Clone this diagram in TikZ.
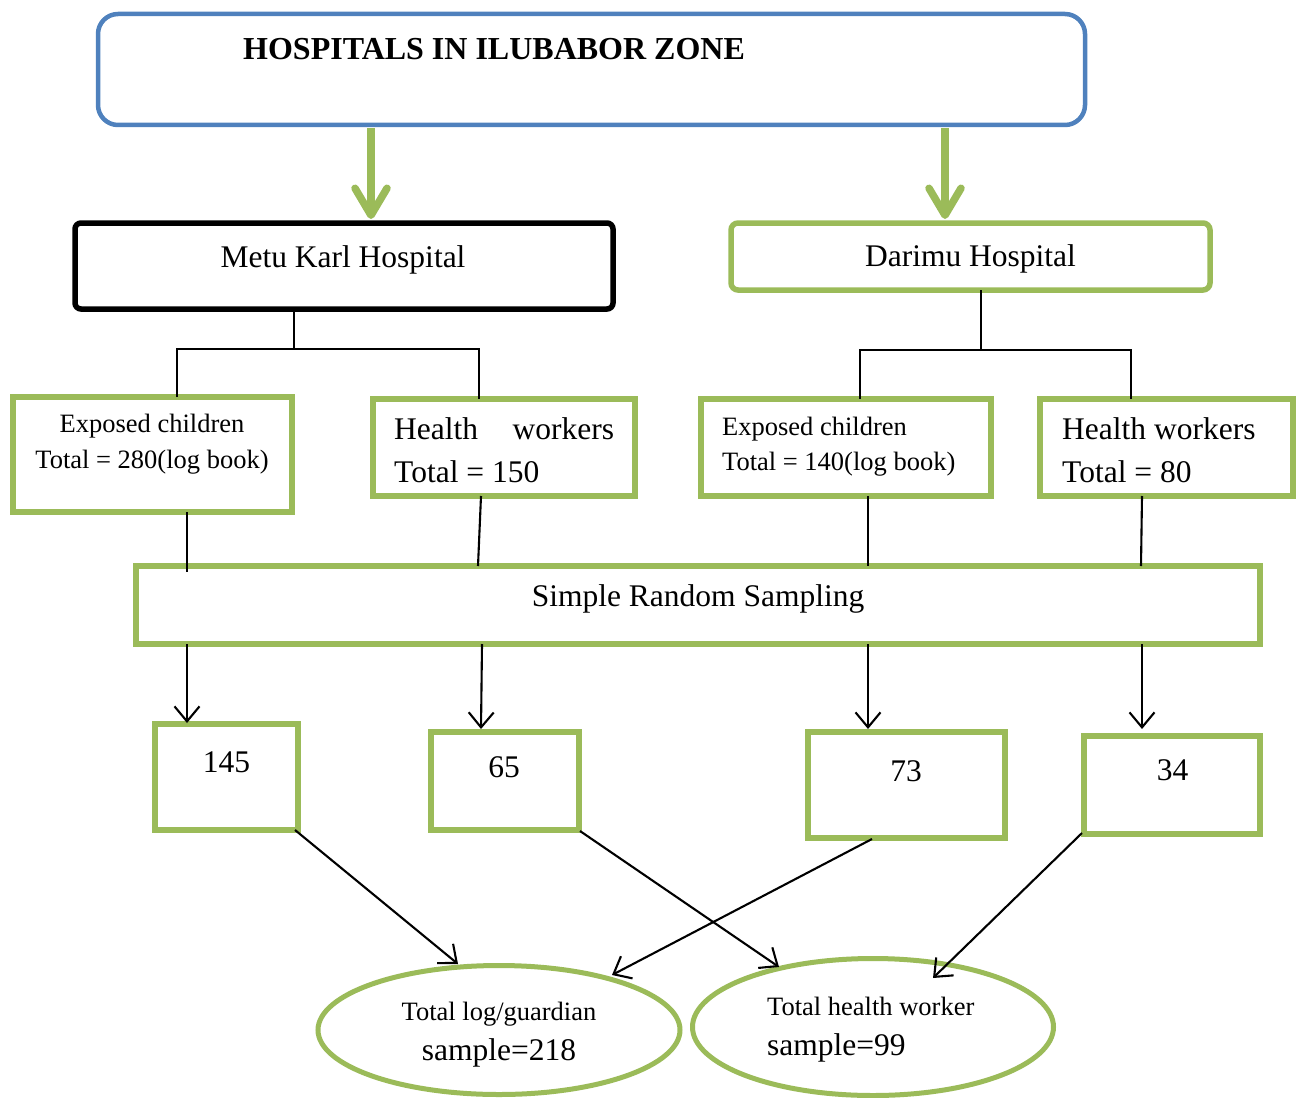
\documentclass[tikz,border=0pt]{standalone}
\usepackage{fontspec}
\setmainfont{Liberation Serif}
\usetikzlibrary{arrows.meta,calc,shapes.geometric}
\definecolor{grn}{HTML}{9BBB59}
\definecolor{blu}{HTML}{4F81BD}
\begin{document}
\begin{tikzpicture}[x=1pt,y=-1pt,
  gbox/.style={draw=grn, line width=5.5pt, rectangle, inner sep=0pt, outer sep=0pt},
  gell/.style={draw=grn, line width=5pt, ellipse, inner sep=0pt, outer sep=0pt},
  bigtxt/.style={font=\fontsize{31.5}{36}\selectfont, inner sep=0pt},
  smalltxt/.style={font=\fontsize{26.5}{30}\selectfont, inner sep=0pt},
  conn/.style={draw=black, line width=2.1pt},
  arr/.style={conn, -{Straight Barb[length=15pt,width=25pt]}},
  garr/.style={draw=grn, line width=7.5pt, -{Straight Barb[length=27pt,width=32pt,round]}},
]
\useasboundingbox (0,0) rectangle (1303,1097);

% top box
\node[draw=blu, line width=4.5pt, rounded corners=20pt, minimum width=987pt, minimum height=111pt, inner sep=0pt, outer sep=0pt] (top) at (591.5,69.5) {};
\node[font=\bfseries\fontsize{32}{36}\selectfont, inner sep=0pt, anchor=base west] (title) at (243,60) {HOSPITALS IN ILUBABOR ZONE};

% hospitals
\node[draw=black, line width=5.5pt, rounded corners=6pt, minimum width=538pt, minimum height=86pt, inner sep=0pt, outer sep=0pt] (metu) at (344,266) {};
\node[bigtxt, anchor=base] (metut) at (343,267) {Metu Karl Hospital};
\node[gbox, rounded corners=7pt, minimum width=479pt, minimum height=67pt] (darimu) at (970.5,256.5) {};
\node[bigtxt, anchor=base] (darimut) at (970.5,266) {Darimu Hospital};

% green arrows
\draw[garr] ($(top.south west)+(273,3)$) -- ($(metu.north west)+(296,-4)$);
\draw[garr] ($(top.south west)+(847,3)$) -- ($(darimu.north west)+(214,-4)$);

% population boxes
\node[gbox, minimum width=279pt, minimum height=115pt] (ec1) at (152.5,454.5) {};
\node[smalltxt, anchor=base] (ec1a) at (152,432) {Exposed children};
\node[smalltxt, anchor=base] (ec1b) at (152,468) {Total = 280(log book)};

\node[gbox, minimum width=262pt, minimum height=97pt] (hw1) at (504,447.5) {};
\node[bigtxt, anchor=base west] (hw1a) at (394,439) {\makebox[220pt][s]{Health workers}};
\node[bigtxt, anchor=base west] (hw1b) at (394,482) {Total = 150};

\node[gbox, minimum width=290pt, minimum height=97pt] (ec2) at (846,447.5) {};
\node[smalltxt, anchor=base west] (ec2a) at (722,435) {Exposed children};
\node[smalltxt, anchor=base west] (ec2b) at (722,470) {Total = 140(log book)};

\node[gbox, minimum width=253pt, minimum height=97pt] (hw2) at (1166.5,447.5) {};
\node[bigtxt, anchor=base west] (hw2a) at (1062,439) {Health workers};
\node[bigtxt, anchor=base west] (hw2b) at (1062,482) {Total = 80};

% tree connectors
\draw[conn] ($(metu.south west)+(219,0)$) -- ++(0,40) coordinate (mj);
\draw[conn] ($(ec1.north west)+(164,0)$) |- (mj) -| ($(hw1.north west)+(106,0)$);
\draw[conn] ($(darimu.south west)+(250,0)$) -- ++(0,60) coordinate (dj);
\draw[conn] ($(ec2.north west)+(159,0)$) |- (dj) -| ($(hw2.north west)+(91,0)$);

% sampling box
\node[gbox, minimum width=1124pt, minimum height=78pt] (srs) at (698,605) {};
\node[bigtxt, anchor=base] (srst) at (698,606) {Simple Random Sampling};

\draw[conn] ($(ec1.south west)+(174,0)$) -- ($(srs.north west)+(51,6)$);
\draw[conn] ($(hw1.south west)+(108,0)$) -- ($(srs.north west)+(342,0)$);
\draw[conn] ($(ec2.south west)+(167,0)$) -- ($(srs.north west)+(732,0)$);
\draw[conn] ($(hw2.south west)+(102,0)$) -- ($(srs.north west)+(1005,0)$);

% sample boxes
\node[gbox, minimum width=143pt, minimum height=106pt] (n145) at (226.5,777) {};
\node[bigtxt, anchor=base] (n145t) at (226.5,772) {145};
\node[gbox, minimum width=148pt, minimum height=98pt] (n65) at (505,781) {};
\node[bigtxt, anchor=base] (n65t) at (504,777) {65};
\node[gbox, minimum width=197pt, minimum height=106pt] (n73) at (906.5,785) {};
\node[bigtxt, anchor=base] (n73t) at (906,781) {73};
\node[gbox, minimum width=176pt, minimum height=98pt] (n34) at (1172,785) {};
\node[bigtxt, anchor=base] (n34t) at (1172.5,780) {34};

\draw[arr] ($(srs.south west)+(51,0)$) -- ($(n145.north west)+(32,-1)$);
\draw[arr] ($(srs.south west)+(346,0)$) -- ($(n65.north west)+(50,-3)$);
\draw[arr] ($(srs.south west)+(732,0)$) -- ($(n73.north west)+(60,-3)$);
\draw[arr] ($(srs.south west)+(1006,0)$) -- ($(n34.north west)+(58,-7)$);

% totals
\node[gell, minimum width=362pt, minimum height=129pt] (e1) at (499,1030) {};
\node[smalltxt, anchor=base] (e1a) at (499,1020) {Total log/guardian};
\node[bigtxt, anchor=base] (e1b) at (499,1060) {sample=218};
\node[gell, minimum width=361pt, minimum height=137pt] (e2) at (873,1027) {};
\node[smalltxt, anchor=base west] (e2a) at (767,1015) {Total health worker};
\node[bigtxt, anchor=base west] (e2b) at (767,1055) {sample=99};

\draw[arr] ($(n145.south east)+(-3,0)$) -- ($(e1.center)+(-41,-66)$);
\draw[arr] ($(n65.south east)+(1,1)$) -- ($(e2.center)+(-94,-60)$);
\draw[arr] ($(n73.south west)+(64,1)$) -- ($(e1.center)+(113,-55)$);
\draw[arr] ($(n34.south west)+(-2,-1)$) -- ($(e2.center)+(60,-49)$);
\end{tikzpicture}
\end{document}
